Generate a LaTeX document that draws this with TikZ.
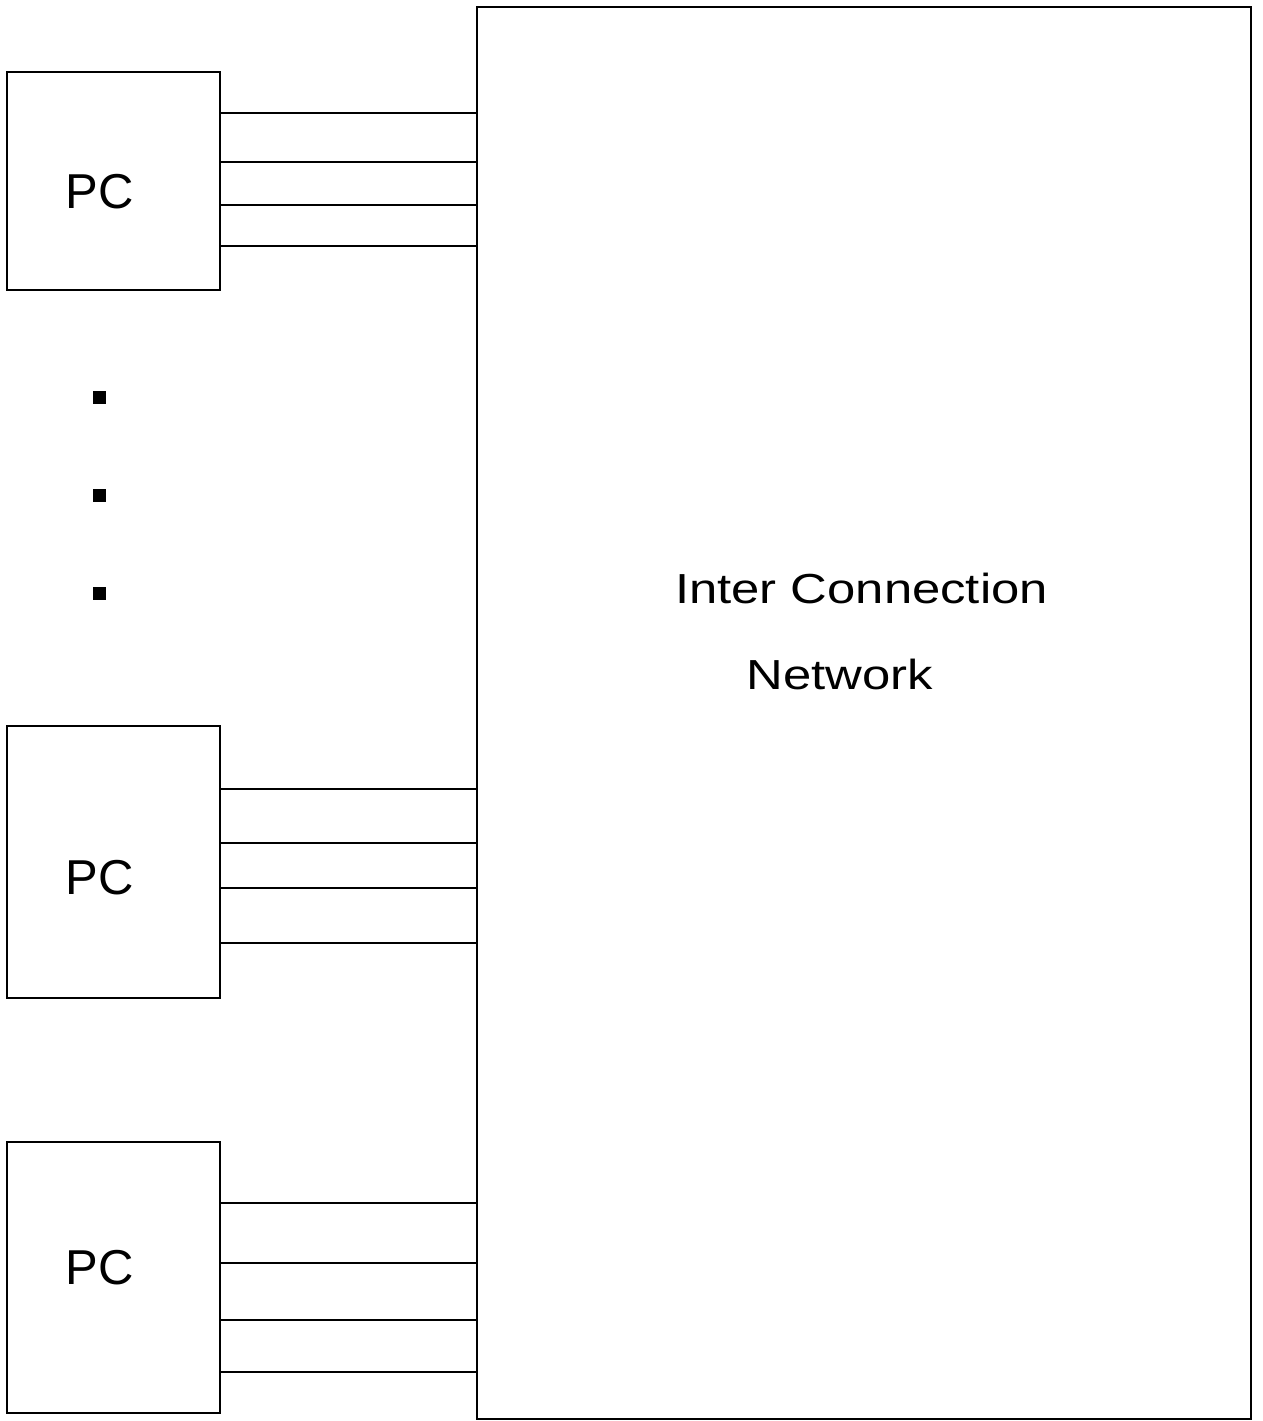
\documentclass[tikz,border=0pt]{standalone}
\usepackage{fontspec}
\setmainfont{Liberation Sans}
\newfontfamily\netfont[FakeStretch=1.21]{Liberation Sans}
\begin{document}
\begin{tikzpicture}[x=1pt, y=-1pt, line width=2.4pt, line join=miter,
    box/.style={draw, rectangle, inner sep=0pt, outer sep=0pt},
    pclbl/.style={anchor=base, inner sep=0pt, font=\fontsize{49}{59}\selectfont},
    netlbl/.style={anchor=base, inner sep=0pt, font=\netfont\fontsize{42}{50}\selectfont}]
    \useasboundingbox (0,0) rectangle (1262,1421);
    % interconnection network
    \node[box, minimum width=774pt, minimum height=1412pt] (icn) at (864,713) {};
    \node[netlbl] (icnA) at (861.5,603) {Inter Connection};
    \node[netlbl] (icnB) at (840,689) {Network};
    % processors
    \node[box, minimum width=213pt, minimum height=218pt] (pc1) at (113.5,181) {};
    \node[box, minimum width=213pt, minimum height=272pt] (pc2) at (113.5,862) {};
    \node[box, minimum width=213pt, minimum height=271pt] (pc3) at (113.5,1277.5) {};
    \node[pclbl] (pc1lbl) at (100,208) {PC};
    \node[pclbl] (pc2lbl) at (100,894) {PC};
    \node[pclbl] (pc3lbl) at (100,1284) {PC};
    % links
    \foreach \pc/\ya/\yb/\yc/\yd in {pc1/113/162/205/246, pc2/789/843/888/943, pc3/1203/1263/1320/1372}
        \foreach \y in {\ya,\yb,\yc,\yd} \draw (\pc.east |- 0,\y) -- (icn.west |- 0,\y);
    % dots
    \foreach \y in {397,495,593} \fill (93,\y-6.5) rectangle +(13,13);
\end{tikzpicture}
\end{document}
